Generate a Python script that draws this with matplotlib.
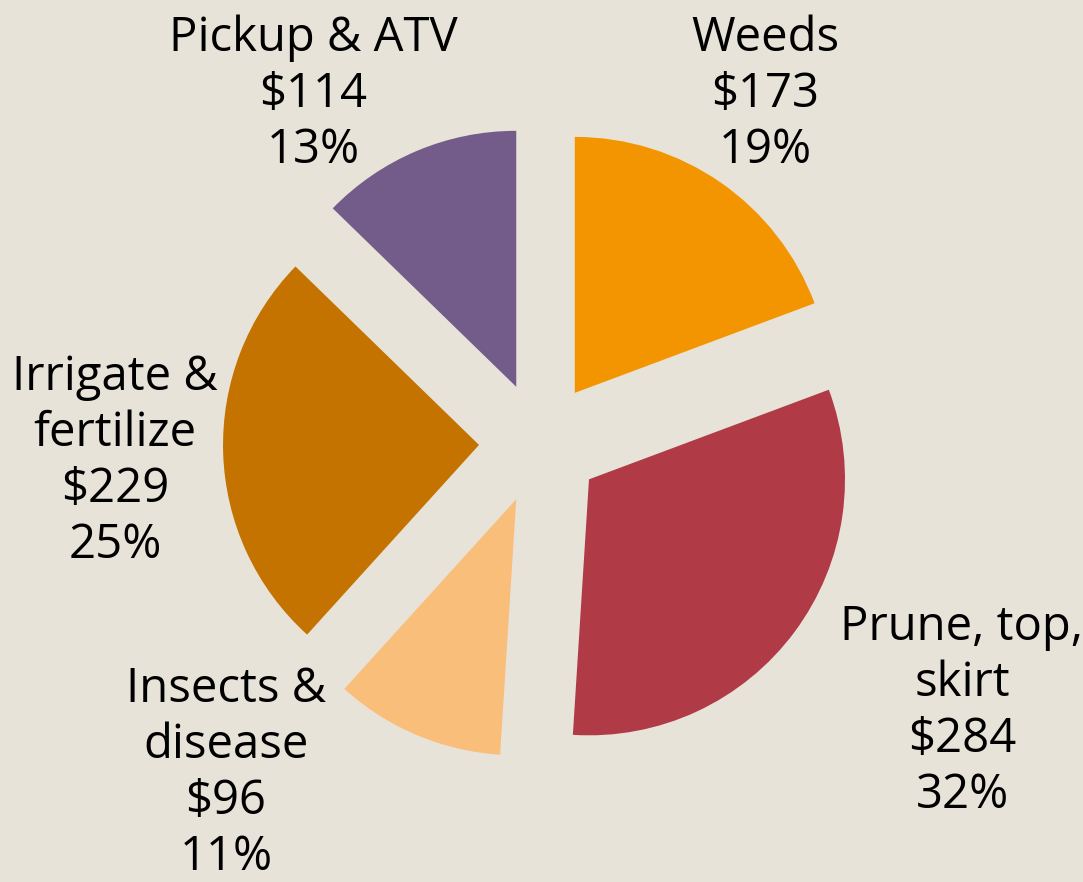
import matplotlib
matplotlib.use("Agg")
import matplotlib.pyplot as plt

categories = ["Weeds", "Prune, top,\nskirt", "Insects &\ndisease", "Irrigate &\nfertilize", "Pickup & ATV"]
costs = [173, 284, 96, 229, 114]
percents = [19, 32, 11, 25, 13]
colors = ["#F39500", "#B03A46", "#F9BE7A", "#C47200", "#735C8A"]

# label block centres (pixels, y from top)
label_pos = [(765, 94), (962, 711), (226, 773), (115, 461), (313, 94)]

bg = "#E8E3D9"
fig = plt.figure(figsize=(10.83, 8.82), dpi=100, facecolor=bg)
ax = fig.add_axes([0, 0, 1, 1])
ax.set_facecolor(bg)

# explode is in data units (not scaled by radius)
ax.pie(costs, colors=colors, startangle=90, counterclock=False,
       center=(540, 882 - 443), radius=256, explode=[61] * len(costs),
       wedgeprops=dict(linewidth=0), frame=True)

ax.set_xlim(0, 1083)
ax.set_ylim(0, 882)
ax.set_aspect("equal")
ax.axis("off")

for cat, cost, pct, (x, y) in zip(categories, costs, percents, label_pos):
    ax.text(x, 882 - y, f"{cat}\n${cost}\n{pct}%", ha="center", va="center",
            multialignment="center", fontsize=34, family="Open Sans",
            linespacing=1.23, color="black")

fig.savefig("out.png", dpi=100, facecolor=bg)
